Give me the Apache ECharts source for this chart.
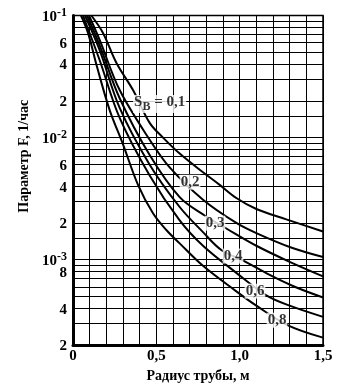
<!DOCTYPE html>
<html>
<head>
<meta charset="utf-8">
<script src="https://cdn.jsdelivr.net/npm/echarts@6/dist/echarts.min.js"></script>
<style>
  html, body { margin: 0; padding: 0; background: #fff; }
  #chart { width: 352px; height: 391px; }
</style>
</head>
<body>
<div id="chart"></div>
<script>
// кривые F(r) для разных S_в, точки [радиус, F]
const curveS01 = [[0.11, 0.1], [0.18, 0.072], [0.26, 0.041], [0.36, 0.0245], [0.46, 0.0132], [0.54, 0.01], [0.64, 0.0074], [0.78, 0.0052], [0.88, 0.0041], [0.98, 0.0032], [1.1, 0.0026], [1.28, 0.00214], [1.5, 0.0017]];
const curveS02 = [[0.096, 0.1], [0.16, 0.063], [0.28, 0.0245], [0.46, 0.0096], [0.58, 0.0057], [0.78, 0.0031], [0.98, 0.002], [1.1, 0.00165], [1.3, 0.00127], [1.5, 0.00105]];
const curveS03 = [[0.084, 0.1], [0.16, 0.057], [0.28, 0.021], [0.46, 0.0072], [0.64, 0.00325], [0.79, 0.0023], [0.92, 0.0018], [1.1, 0.0013], [1.3, 0.00096], [1.5, 0.00073]];
const curveS04 = [[0.072, 0.1], [0.16, 0.052], [0.28, 0.0175], [0.46, 0.006], [0.64, 0.0027], [0.78, 0.00168], [0.89, 0.0012], [1.03, 0.00097], [1.18, 0.00075], [1.33, 0.0006], [1.5, 0.00049]];
const curveS06 = [[0.06, 0.1], [0.16, 0.043], [0.28, 0.0145], [0.46, 0.0049], [0.64, 0.0021], [0.78, 0.0013], [0.98, 0.00078], [1.16, 0.00051], [1.3, 0.00042], [1.5, 0.00034]];
const curveS08 = [[0.048, 0.1], [0.09, 0.072], [0.144, 0.038], [0.22, 0.0168], [0.3, 0.0088], [0.39, 0.0041], [0.48, 0.0024], [0.56, 0.00175], [0.64, 0.00136], [0.78, 0.00089], [0.98, 0.00055], [1.1, 0.00042], [1.29, 0.00029], [1.5, 0.00023]];

// подписи кривых
const curveNames = ["{s|S}{sub|В}{s| = 0,1}", "0,2", "0,3", "0,4", "0,6", "0,8"];
const curveLabelAt = [[0.52, 0.0188], [0.702, 0.00431], [0.852, 0.00199], [0.96, 0.00107], [1.092, 0.000552], [1.224, 0.000319]];

// сетка и метки осей
const xTickLabels = [0, 0.5, 1.0, 1.5];
const yTickLabels = [0.1, 0.06, 0.04, 0.02, 0.01, 0.006, 0.004, 0.002, 0.001, 0.0008, 0.0004, 0.0002];
const yGridLines = [
  0.1, 0.09, 0.08, 0.07, 0.06, 0.05, 0.04, 0.03, 0.02, 0.015,
  0.01, 0.009, 0.008, 0.007, 0.006, 0.005, 0.004, 0.003, 0.002, 0.0015,
  0.001, 0.0009, 0.0008, 0.0007, 0.0006, 0.0005, 0.0004, 0.0003, 0.0002
];

const FONT = "Liberation Serif";

const fmtY = (v) => {
  const lg = Math.log10(v);
  const e = Math.round(lg);
  if (Math.abs(lg - e) < 1e-6) return "{b|10}{sup|" + e + "}";
  const m = Math.round(v / Math.pow(10, Math.floor(lg + 1e-9)));
  return "{b|" + m + "}";
};

const fmtX = (v) => {
  if (v === 0) return "0";
  return v.toFixed(1).replace(".", ",");
};

const lineSeries = (data) => ({
  type: "line",
  data: data,
  smooth: 0.35,
  symbol: "none",
  lineStyle: { color: "#000", width: 2 },
  z: 3,
});

const options = {
  animation: false,
  backgroundColor: "#fff",
  grid: {
    left: 73,
    right: 29,
    top: 15.5,
    bottom: 46,
    show: true,
    borderColor: "#000",
    borderWidth: 1.5,
  },
  xAxis: {
    type: "value",
    min: 0,
    max: 1.5,
    interval: 0.1,
    name: "Радиус трубы, м",
    nameLocation: "middle",
    nameGap: 17,
    nameTextStyle: { fontFamily: FONT, fontWeight: "bold", fontSize: 14, color: "#000" },
    axisLine: { lineStyle: { color: "#000", width: 3 } },
    axisTick: { show: false },
    axisLabel: {
      customValues: xTickLabels,
      formatter: fmtX,
      fontFamily: FONT,
      fontWeight: "bold",
      fontSize: 15,
      color: "#000",
      margin: 4,
    },
    splitLine: { show: true, lineStyle: { color: "#000", width: 1 } },
  },
  yAxis: {
    type: "log",
    logBase: 10,
    min: 0.0002,
    max: 0.1,
    name: "Параметр F, 1/час",
    nameLocation: "middle",
    nameRotate: 90,
    nameGap: 40,
    nameTextStyle: { fontFamily: FONT, fontWeight: "bold", fontSize: 14, color: "#000", padding: [0, 0, 0, 48] },
    axisLine: { show: true, lineStyle: { color: "#000", width: 3 } },
    axisTick: { show: false, customValues: yGridLines },
    axisLabel: {
      customValues: yTickLabels,
      formatter: fmtY,
      margin: 6,
      rich: {
        b: { fontFamily: FONT, fontWeight: "bold", fontSize: 15, color: "#000", lineHeight: 18, verticalAlign: "bottom" },
        sup: { fontFamily: FONT, fontWeight: "bold", fontSize: 12, color: "#000", lineHeight: 12, verticalAlign: "top" },
      },
    },
    splitLine: { show: true, lineStyle: { color: "#000", width: 1 } },
  },
  series: [
    lineSeries(curveS01),
    lineSeries(curveS02),
    lineSeries(curveS03),
    lineSeries(curveS04),
    lineSeries(curveS06),
    lineSeries(curveS08),
    {
      type: "scatter",
      data: curveLabelAt.map((p, i) => ({ value: p, name: curveNames[i] })),
      symbolSize: 1,
      itemStyle: { color: "rgba(0,0,0,0)" },
      z: 5,
      label: {
        show: true,
        position: "inside",
        formatter: (p) => p.name,
        fontFamily: FONT,
        fontWeight: "bold",
        fontSize: 15,
        color: "#000",
        backgroundColor: "#fff",
        padding: [0, 1],
        rich: {
          s: { fontFamily: FONT, fontWeight: "bold", fontSize: 15, color: "#000", lineHeight: 18, verticalAlign: "top" },
          sub: { fontFamily: FONT, fontWeight: "bold", fontSize: 12, color: "#000", lineHeight: 12, verticalAlign: "bottom", padding: [8, 0, 0, 0] },
        },
      },
    },
  ],
};

const chart = echarts.init(document.getElementById("chart"), null, { renderer: "canvas" });
chart.setOption(options);
window.addEventListener("resize", () => {
  chart.resize();
});
</script>
</body>
</html>
